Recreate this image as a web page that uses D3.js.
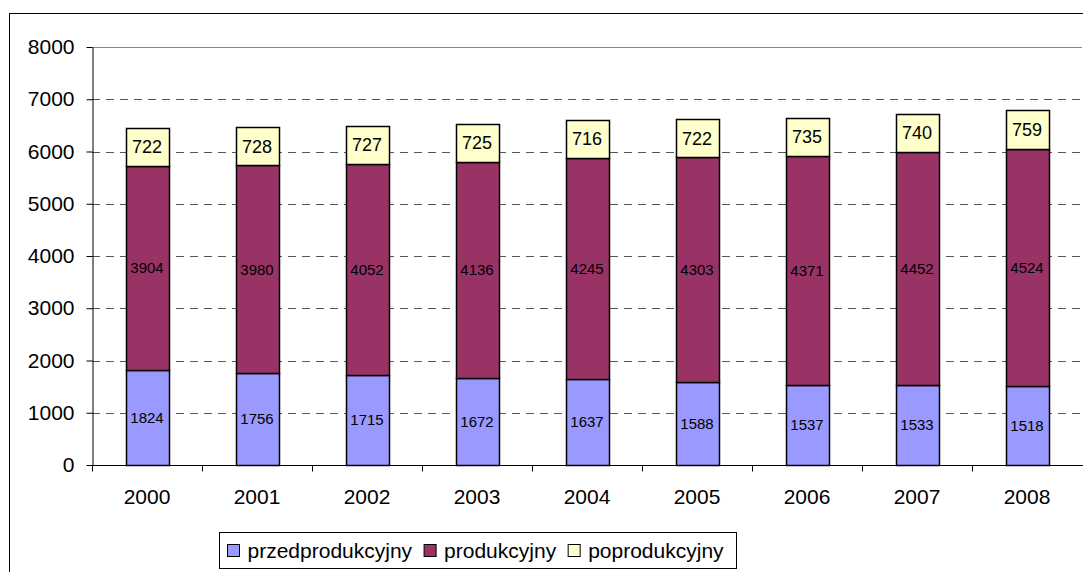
<!DOCTYPE html>
<html>
<head>
  <meta charset="utf-8">
  <script src="https://d3js.org/d3.v7.min.js"></script>
  <style>
    body { margin: 0; background: #fff; }
    svg { font-family: "Liberation Sans", Arial, sans-serif; }
  </style>
</head>
<body>
  <svg id="chart" width="1083" height="572"></svg>
  <script>
    // data
    var years = ["2000", "2001", "2002", "2003", "2004", "2005", "2006", "2007", "2008"];
    var przedprodukcyjny = [1824, 1756, 1715, 1672, 1637, 1588, 1537, 1533, 1518];
    var produkcyjny = [3904, 3980, 4052, 4136, 4245, 4303, 4371, 4452, 4524];
    var poprodukcyjny = [722, 728, 727, 725, 716, 722, 735, 740, 759];
    var seriesNames = ["przedprodukcyjny", "produkcyjny", "poprodukcyjny"];
    var seriesColors = ["#9999FF", "#993366", "#FFFFCC"];
    var yTicks = [0, 1000, 2000, 3000, 4000, 5000, 6000, 7000, 8000];

    var svg = d3.select("#chart");

    // outer chart border (runs off right/bottom edge)
    svg.append("rect")
      .attr("x", 9.5).attr("y", 13.5)
      .attr("width", 1090).attr("height", 580)
      .attr("fill", "none").attr("stroke", "#000").attr("stroke-width", 1);

    var margin = {left: 92, top: 47, right: 1082, bottom: 465};

    var x = d3.scaleBand().domain(years).range([margin.left, margin.right]).paddingInner(0.61).paddingOuter(0.305);
    var xTick = d3.scaleBand().domain(years).range([margin.left, margin.right]);
    var y = d3.scaleLinear().domain([0, 8000]).range([margin.bottom, margin.top]);

    var table = years.map(function(yr, i) {
      return {year: yr, przedprodukcyjny: przedprodukcyjny[i], produkcyjny: produkcyjny[i], poprodukcyjny: poprodukcyjny[i]};
    });
    var stacked = d3.stack().keys(seriesNames)(table);

    // gridlines
    svg.append("g").selectAll("line")
      .data(yTicks.filter(function(d) { return d > 0 && d < 8000; }))
      .enter().append("line")
      .attr("x1", margin.left).attr("x2", margin.right)
      .attr("y1", function(d) { return Math.round(y(d)) + 0.5; })
      .attr("y2", function(d) { return Math.round(y(d)) + 0.5; })
      .attr("stroke", "#555").attr("stroke-dasharray", "8,6");

    // plot area top border
    svg.append("line")
      .attr("x1", margin.left).attr("x2", margin.right)
      .attr("y1", Math.round(y(8000)) + 0.5).attr("y2", Math.round(y(8000)) + 0.5)
      .attr("stroke", "#888");

    // bars
    var groups = svg.append("g").selectAll("g")
      .data(stacked).enter().append("g")
      .attr("fill", function(d, i) { return seriesColors[i]; });

    groups.selectAll("rect")
      .data(function(d) { return d; })
      .enter().append("rect")
      .attr("x", function(d) { return Math.round(x(d.data.year)) + 0.5; })
      .attr("y", function(d) { return Math.round(y(d[1])) + 0.5; })
      .attr("width", Math.round(x.bandwidth()))
      .attr("height", function(d) { return Math.round(y(d[0])) - Math.round(y(d[1])); })
      .attr("stroke", "#000").attr("stroke-width", 1.5);

    // value labels
    groups.selectAll("text")
      .data(function(d, i) { return d.map(function(p) { p.si = i; return p; }); })
      .enter().append("text")
      .attr("x", function(d) { return x(d.data.year) + x.bandwidth() / 2; })
      .attr("y", function(d) { return (y(d[0]) + y(d[1])) / 2; })
      .attr("dy", "0.35em")
      .attr("text-anchor", "middle")
      .attr("fill", "#000")
      .style("font-size", function(d) { return d.si === 2 ? "18px" : "15px"; })
      .text(function(d) { return d[1] - d[0]; });

    // y axis
    var yAxis = svg.append("g")
      .attr("transform", "translate(" + (margin.left + 0.5) + ",0)")
      .call(d3.axisLeft(y).tickValues(yTicks).tickFormat(d3.format("d"))
        .tickSize(6).tickPadding(12).tickSizeOuter(0));
    yAxis.select(".domain").attr("stroke", "#000");
    yAxis.selectAll("text").style("font-size", "21px").attr("fill", "#000");

    // x axis
    var xAxis = svg.append("g")
      .attr("transform", "translate(0," + (Math.round(y(0)) + 0.5) + ")");
    xAxis.append("line")
      .attr("x1", margin.left).attr("x2", margin.right + 1)
      .attr("stroke", "#000");
    xAxis.selectAll(".tk")
      .data(years).enter().append("line")
      .attr("x1", function(d) { return Math.round(xTick(d)) + 0.5; })
      .attr("x2", function(d) { return Math.round(xTick(d)) + 0.5; })
      .attr("y1", 0).attr("y2", 6).attr("stroke", "#000");
    xAxis.selectAll(".lbl")
      .data(years).enter().append("text")
      .attr("x", function(d) { return xTick(d) + xTick.bandwidth() / 2; })
      .attr("y", 38)
      .attr("text-anchor", "middle")
      .style("font-size", "21px")
      .text(function(d) { return d; });

    // legend
    var legend = svg.append("g").attr("transform", "translate(219.5,532.5)");
    legend.append("rect")
      .attr("width", 517).attr("height", 36)
      .attr("fill", "#fff").attr("stroke", "#000");
    var cursor = 8;
    seriesNames.forEach(function(name, i) {
      var item = legend.append("g").attr("transform", "translate(" + cursor + ",0)");
      item.append("rect")
        .attr("x", 0).attr("y", 12).attr("width", 12).attr("height", 12)
        .attr("fill", seriesColors[i])
        .attr("stroke", "#000");
      var t = item.append("text")
        .attr("x", 20).attr("y", 18).attr("dy", "0.35em")
        .style("font-size", "21px")
        .text(name);
      cursor += 20 + t.node().getComputedTextLength() + 12;
    });
  </script>
</body>
</html>
